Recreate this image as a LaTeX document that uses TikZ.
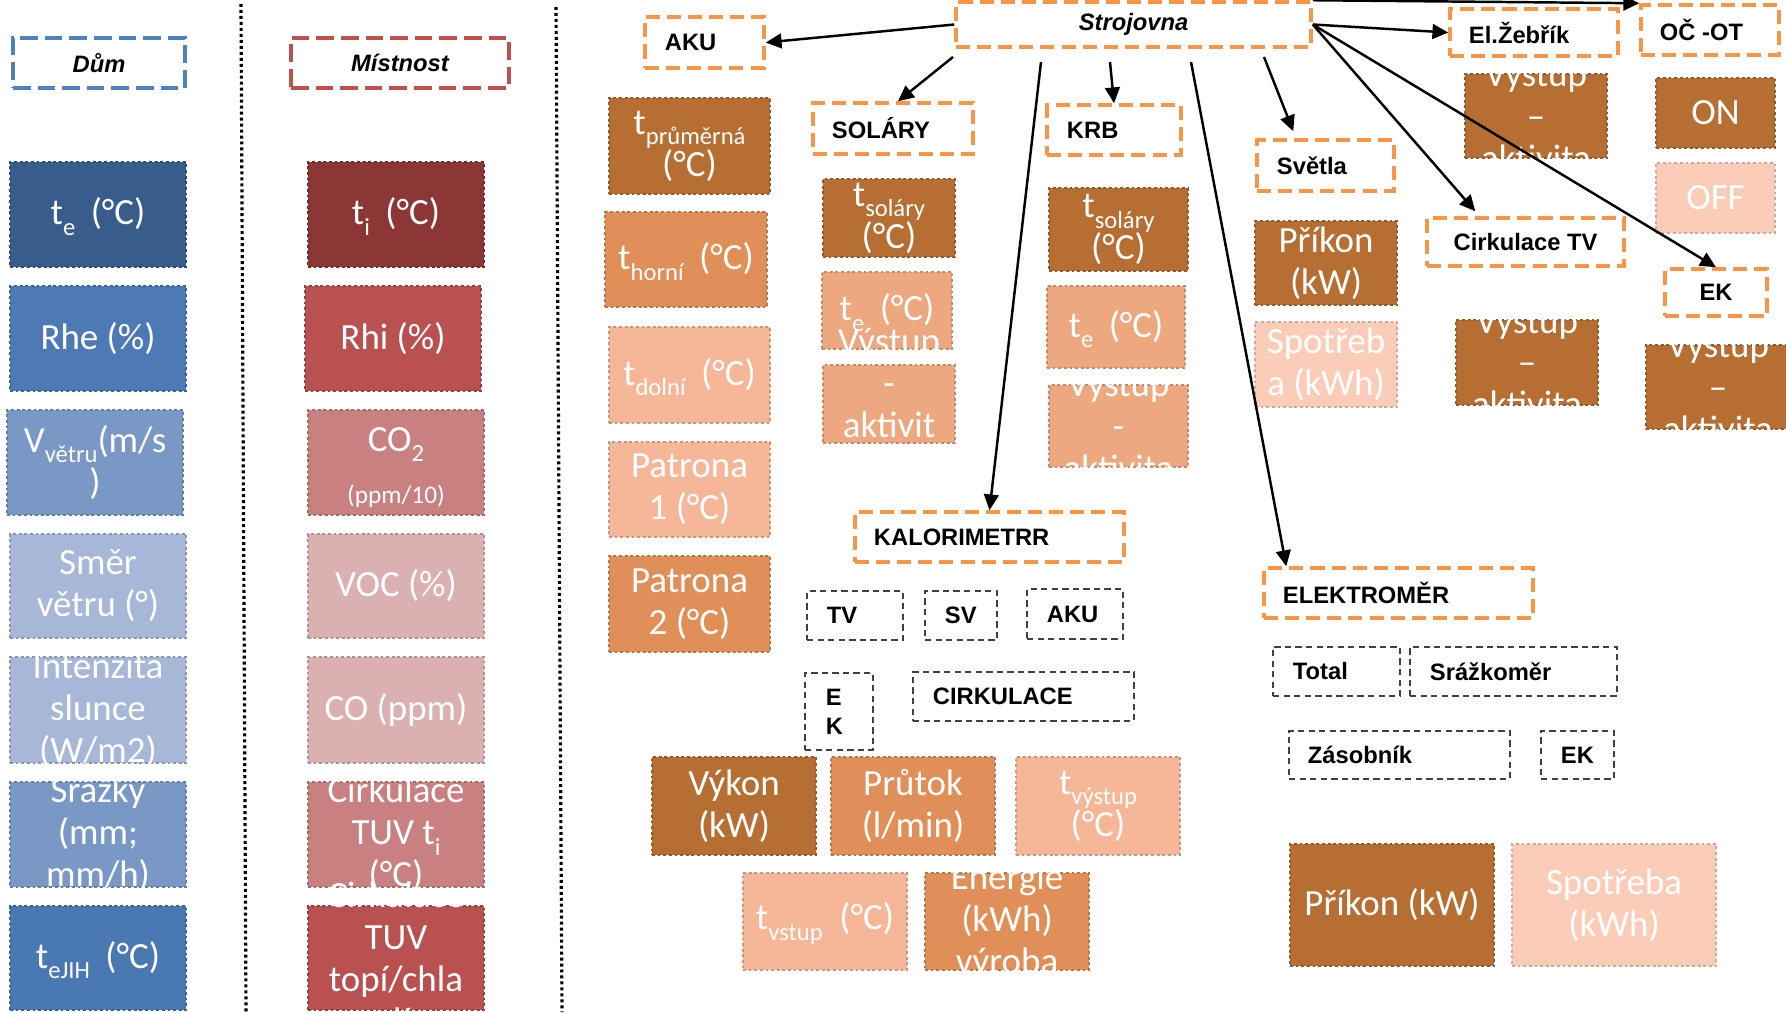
\documentclass[tikz,border=0pt]{standalone}
\usepackage{fontspec}
\setmainfont{Carlito}
\newfontfamily\arialf{Liberation Sans}
\usetikzlibrary{fit,arrows.meta}
\newcommand\sbx[1]{\raisebox{-0.28em}{\fontsize{7}{7}\selectfont #1}}
\newcommand\gp{\hspace{0.42em}}
\definecolor{bD}{HTML}{385D8A}
\definecolor{bM}{HTML}{4D79B5}
\definecolor{bL}{HTML}{7A98C5}
\definecolor{bP}{HTML}{A6B7D7}
\definecolor{bJ}{HTML}{4A78B3}
\definecolor{rD}{HTML}{8C3636}
\definecolor{rM}{HTML}{B85150}
\definecolor{rL}{HTML}{C98080}
\definecolor{rP}{HTML}{DBB0B1}
\definecolor{oD}{HTML}{B66E33}
\definecolor{oM}{HTML}{E08F58}
\definecolor{oL}{HTML}{F5B797}
\definecolor{oS}{HTML}{EEA880}
\definecolor{oP}{HTML}{FBCDB9}
\definecolor{lnB}{HTML}{4F81BD}
\definecolor{lnR}{HTML}{C0504D}
\definecolor{lnO}{HTML}{F79646}
\begin{document}
\begin{tikzpicture}[x=0.01cm,y=-0.01cm,
  cbox/.style={fill=#1, draw=#1!82!black, dash pattern=on 0.8pt off 0.8pt, line width=0.45pt, inner sep=0pt},
  obox/.style={draw=lnO, line width=1pt, dash pattern=on 4pt off 2pt, inner sep=0pt},
  bbox/.style={draw=lnB, line width=1pt, dash pattern=on 5pt off 2pt, inner sep=0pt},
  rbox/.style={draw=lnR, line width=1pt, dash pattern=on 5pt off 2pt, inner sep=0pt},
  kbox/.style={draw=black!75, line width=0.45pt, dash pattern=on 1.8pt off 1.2pt, inner sep=0pt},
  btxt/.style={text=white, font=\fontsize{10.5}{11.9}\selectfont, align=center, inner sep=0pt},
  lbl/.style={font={\arialf\bfseries\fontsize{6.75}{8.3}\selectfont}, inner sep=0pt, align=left},
  lbli/.style={font={\arialf\bfseries\itshape\fontsize{6.75}{8}\selectfont}, inner sep=0pt},
  arr/.style={-{Triangle[length=4.5pt,width=4.2pt]}, line width=0.7pt},
  sepline/.style={line width=0.9pt, dash pattern=on 0.85pt off 0.85pt}]
\useasboundingbox (0,0) rectangle (1786,1012);

% ---- separator lines
\coordinate (v1a) at (241,4); \coordinate (v1b) at (246,1012);
\coordinate (v2a) at (556,7); \coordinate (v2b) at (562,1012);
\draw[sepline] (v1a) -- (v1b);
\draw[sepline] (v2a) -- (v2b);

% ---- colored boxes
\node[fit={(10,162) (186,267)}, cbox=bD] (d1) {};
\node[fit={(10,286) (186,391)}, cbox=bM] (d2) {};
\node[fit={(7,410) (183,515)}, cbox=bL] (d3) {};
\node[fit={(10,534) (186,638)}, cbox=bP] (d4) {};
\node[fit={(10,657) (186,763)}, cbox=bP] (d5) {};
\node[fit={(10,782) (186,887)}, cbox=bL] (d6) {};
\node[fit={(10,906) (186,1010)}, cbox=bJ] (d7) {};

\node[fit={(308,162) (484,267)}, cbox=rD] (m1) {};
\node[fit={(305,286) (481,391)}, cbox=rM] (m2) {};
\node[fit={(308,410) (484,515)}, cbox=rL] (m3) {};
\node[fit={(308,534) (484,638)}, cbox=rP] (m4) {};
\node[fit={(308,657) (484,763)}, cbox=rP] (m5) {};
\node[fit={(308,782) (484,887)}, cbox=rL] (m6) {};
\node[fit={(308,906) (484,1010)}, cbox=rM] (m7) {};

\node[fit={(609,98) (770,194)}, cbox=oD] (a1) {};
\node[fit={(605,212) (767,307)}, cbox=oM] (a2) {};
\node[fit={(609,327) (770,423)}, cbox=oL] (a3) {};
\node[fit={(609,442) (770,537)}, cbox=oL] (a4) {};
\node[fit={(609,556) (770,652)}, cbox=oM] (a5) {};

\node[fit={(823,179) (955,257)}, cbox=oD] (s1) {};
\node[fit={(822,272) (952,349)}, cbox=oS] (s2) {};
\node[fit={(823,365) (955,443)}, cbox=oS] (s3) {};

\node[fit={(1049,188) (1188,271)}, cbox=oD] (k1) {};
\node[fit={(1047,286) (1185,368)}, cbox=oS] (k2) {};
\node[fit={(1049,385) (1188,467)}, cbox=oS] (k3) {};

\node[fit={(1255,221) (1397,305)}, cbox=oD] (v1) {};
\node[fit={(1255,322) (1397,407)}, cbox=oP] (v2) {};

\node[fit={(1465,74) (1607,158)}, cbox=oD] (e1) {};
\node[fit={(1656,78) (1775,148)}, cbox=oD] (on) {};
\node[fit={(1656,163) (1775,233)}, cbox=oP] (off) {};
\node[fit={(1456,320) (1598,405)}, cbox=oD] (c1) {};
\node[fit={(1646,345) (1790,429)}, cbox=oD] (x1) {};

\node[fit={(652,757) (816,855)}, cbox=oD] (kv) {};
\node[fit={(831,757) (995,855)}, cbox=oM] (kp) {};
\node[fit={(1016,757) (1180,855)}, cbox=oL] (kvy) {};
\node[fit={(743,873) (907,970)}, cbox=oL] (kvs) {};
\node[fit={(925,873) (1089,970)}, cbox=oM] (ke) {};

\node[fit={(1290,844) (1494,966)}, cbox=oD] (ep) {};
\node[fit={(1512,844) (1716,966)}, cbox=oP] (es) {};

% ---- texts of colored boxes
\node[btxt] (d1t) at ([yshift=-0.02cm]d1.center) {t\sbx{e}\gp(°C)};
\node[btxt] (d2t) at (d2.center) {Rhe (\%)};
\node[btxt] (d3t) at (d3.center) {V\sbx{větru}(m/s\\)};
\node[btxt] (d4t) at (d4.center) {Směr\\větru (°)};
\node[btxt] (d5t) at (d5.center) {Intenzita\\slunce\\(W/m2)};
\node[btxt] (d6t) at (d6.center) {Srážky\\(mm;\\mm/h)};
\node[btxt] (d7t) at ([yshift=-0.02cm]d7.center) {t\sbx{eJIH}\gp(°C)};

\node[btxt] (m1t) at ([yshift=-0.02cm]m1.center) {t\sbx{i}\gp(°C)};
\node[btxt] (m2t) at (m2.center) {Rhi (\%)};
\node[btxt] (m3t) at ([yshift=-0.05cm]m3.center) {CO\sbx{2}\\[3pt]{\fontsize{7.2}{8}\selectfont (ppm/10)}};
\node[btxt] (m4t) at (m4.center) {VOC (\%)};
\node[btxt] (m5t) at (m5.center) {CO (ppm)};
\node[btxt] (m6t) at (m6.center) {Cirkulace\\TUV t\sbx{i}\\(°C)};
\node[btxt] (m7t) at (m7.center) {Cirkulace\\TUV\\topí/chla\\dí};

\node[btxt] (a1t) at (a1.center) {t\sbx{průměrná}\\(°C)};
\node[btxt] (a2t) at ([yshift=-0.02cm]a2.center) {t\sbx{horní}\gp(°C)};
\node[btxt] (a3t) at ([yshift=-0.02cm]a3.center) {t\sbx{dolní}\gp(°C)};
\node[btxt] (a4t) at (a4.center) {Patrona\\1 (°C)};
\node[btxt] (a5t) at (a5.center) {Patrona\\2 (°C)};

\node[btxt] (s1t) at (s1.center) {t\sbx{soláry}\\(°C)};
\node[btxt] (s2t) at ([yshift=-0.02cm]s2.center) {t\sbx{e}\gp(°C)};
\node[btxt] (s3t) at (s3.center) {Výstup\\-\\aktivit\\a};
\node[btxt] (k1t) at (k1.center) {t\sbx{soláry}\\(°C)};
\node[btxt] (k2t) at ([yshift=-0.02cm]k2.center) {t\sbx{e}\gp(°C)};
\node[btxt] (k3t) at (k3.center) {Výstup\\-\\aktivita};
\node[btxt] (v1t) at (v1.center) {Příkon\\(kW)};
\node[btxt] (v2t) at (v2.center) {Spotřeb\\a (kWh)};
\node[btxt] (e1t) at (e1.center) {Výstup\\--\\aktivita};
\node[btxt] (ont) at (on.center) {ON};
\node[btxt] (offt) at (off.center) {OFF};
\node[btxt] (c1t) at (c1.center) {Výstup\\--\\aktivita};
\node[btxt] (x1t) at (x1.center) {Výstup\\--\\aktivita};

\node[btxt] (kvt) at (kv.center) {Výkon\\(kW)};
\node[btxt] (kpt) at (kp.center) {Průtok\\(l/min)};
\node[btxt] (kvyt) at (kvy.center) {t\sbx{výstup}\\(°C)};
\node[btxt] (kvst) at ([yshift=-0.02cm]kvs.center) {t\sbx{vstup}\hspace{0.45em}(°C)};
\node[btxt] (ket) at (ke.center) {Energie\\(kWh)\\výroba};
\node[btxt] (ept) at (ep.center) {Příkon (kW)};
\node[btxt] (est) at (es.center) {Spotřeba\\(kWh)};

% ---- dashed title boxes
\node[fit={(13,38) (185,88)}, bbox] (dum) {};
\node[lbli] (dumt) at (dum.center) {Dům};
\node[fit={(291,38) (509,88)}, rbox] (mist) {};
\node[lbli] (mistt) at (mist.center) {Místnost};

\node[fit={(956,2) (1311,47)}, obox] (stroj) {};
\node[lbli] (strojt) at (stroj.center) {Strojovna};
\node[fit={(645,17) (764,68)}, obox] (aku) {};
\node[lbl, anchor=west] (akut) at ([xshift=0.21cm]aku.west) {AKU};
\node[fit={(813,103) (973,154)}, obox] (solary) {};
\node[lbl, anchor=west] (solaryt) at ([xshift=0.2cm]solary.west) {SOLÁRY};
\node[fit={(1047,105) (1181,155)}, obox] (krb) {};
\node[lbl, anchor=west] (krbt) at ([xshift=0.21cm]krb.west) {KRB};
\node[fit={(1257,140) (1394,191)}, obox] (svetla) {};
\node[lbl, anchor=west] (svetlat) at ([xshift=0.21cm]svetla.west) {Světla};
\node[fit={(1450,9) (1618,56)}, obox] (elz) {};
\node[lbl, anchor=west] (elzt) at ([xshift=0.2cm]elz.west) {El.Žebřík};
\node[fit={(1641,5) (1779,55)}, obox] (oc) {};
\node[lbl, anchor=west] (oct) at ([xshift=0.2cm]oc.west) {OČ -OT};
\node[fit={(1427,218) (1624,266)}, obox] (cirktv) {};
\node[lbl] (cirktvt) at (cirktv.center) {Cirkulace TV};
\node[fit={(1665,269) (1767,316)}, obox] (ek) {};
\node[lbl] (ekt) at (ek.center) {EK};
\node[fit={(855,512) (1124,562)}, obox] (kal) {};
\node[lbl, anchor=west] (kalt) at ([xshift=0.2cm]kal.west) {KALORIMETRR};
\node[fit={(1264,568) (1533,618)}, obox] (elek) {};
\node[lbl, anchor=west] (elekt) at ([xshift=0.2cm]elek.west) {ELEKTROMĚR};

% ---- black dashed boxes
\node[fit={(807,591) (903,640)}, kbox] (tv) {};
\node[lbl, anchor=west] (tvt) at ([xshift=0.2cm]tv.west) {TV};
\node[fit={(925,591) (997,640)}, kbox] (sv) {};
\node[lbl, anchor=west] (svt) at ([xshift=0.2cm]sv.west) {SV};
\node[fit={(1027,589) (1123,639)}, kbox] (kaku) {};
\node[lbl, anchor=west] (kakut) at ([xshift=0.2cm]kaku.west) {AKU};
\node[fit={(805,673) (873,750)}, kbox] (kek) {};
\node[lbl, anchor=west] (kekt) at ([xshift=0.21cm]kek.west) {E\\K};
\node[fit={(913,672) (1134,721)}, kbox] (kcirk) {};
\node[lbl, anchor=west] (kcirkt) at ([xshift=0.2cm]kcirk.west) {CIRKULACE};
\node[fit={(1273,647) (1400,696)}, kbox] (total) {};
\node[lbl, anchor=west] (totalt) at ([xshift=0.2cm]total.west) {Total};
\node[fit={(1410,647) (1617,696)}, kbox] (srazk) {};
\node[lbl, anchor=west] (srazkt) at ([xshift=0.2cm]srazk.west) {Srážkoměr};
\node[fit={(1289,731) (1510,779)}, kbox] (zas) {};
\node[lbl, anchor=west] (zast) at ([xshift=0.19cm]zas.west) {Zásobník};
\node[fit={(1541,731) (1614,779)}, kbox] (eek) {};
\node[lbl, anchor=west] (eekt) at ([xshift=0.2cm]eek.west) {EK};

% ---- connectors
\coordinate (st1) at (953,57);
\coordinate (st2) at (1041,62);
\coordinate (st3) at (1110,62);
\coordinate (st4) at (1191,62);
\coordinate (st5) at (1264,57);
\draw[arr] (stroj.west) -- (aku.east);
\draw[arr] (st1) -- ([xshift=0.05cm]solary.north);
\draw[arr] (st2) -- (kal.north);
\draw[arr] (st3) -- (krb.north);
\draw[arr] (st4) -- ([xshift=0.24cm]elek.north west);
\draw[arr] (st5) -- ([shift={(38,-7)}]svetla.north west);
\draw[arr] (stroj.east) -- (elz.west);
\draw[arr] (stroj.east) -- ([shift={(50,-5)}]cirktv.north west);
\draw[arr] (stroj.east) -- (ek.north);
\draw[arr] (stroj.north east) -- (oc.north west);
\end{tikzpicture}
\end{document}
